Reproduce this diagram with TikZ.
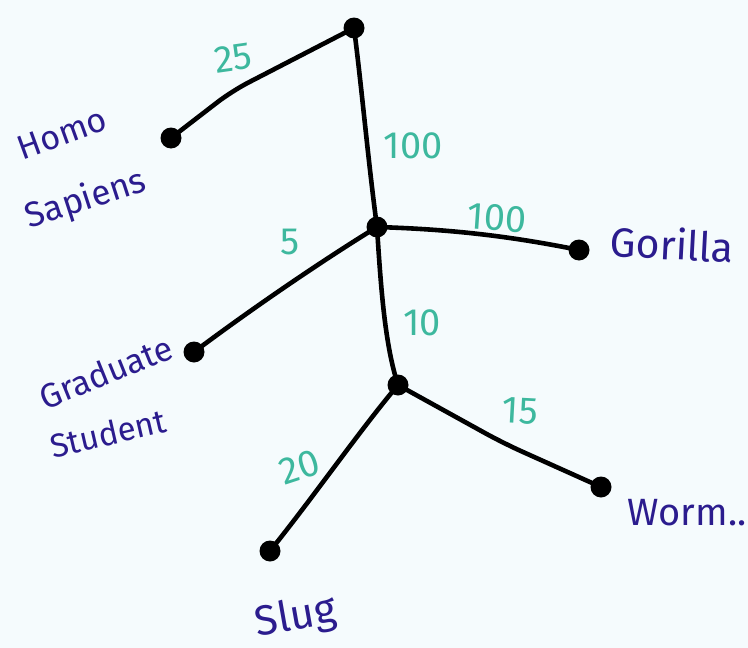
\documentclass[tikz,border=0pt]{standalone}
\usepackage{fontspec}
\setmainfont{Fira Sans}
\definecolor{inkblue}{HTML}{2B1C8E}
\definecolor{inkteal}{HTML}{3DB89E}
\definecolor{paper}{HTML}{F5FBFD}
\begin{document}
\begin{tikzpicture}[x=1pt,y=-1pt,
  dot/.style={circle,fill=black,inner sep=0pt,minimum size=21pt},
  edge/.style={line width=4.6pt,line cap=round,line join=round},
  taxon/.style={text=inkblue,font=\fontsize{34}{36}\selectfont,inner sep=0pt},
  weight/.style={text=inkteal,font=\fontsize{38}{40}\selectfont,inner sep=0pt}]
\fill[paper] (0,0) rectangle (748,648);
\useasboundingbox (0,0) rectangle (748,648);
% tree nodes
\node[dot] (root) at (354,28) {};
\node[dot] (homo) at (171,138) {};
\node[dot] (mid) at (377,227) {};
\node[dot] (gor) at (579,250) {};
\node[dot] (grad) at (194,352) {};
\node[dot] (low) at (398,385) {};
\node[dot] (worm) at (601,487) {};
\node[dot] (slug) at (270,551) {};
% edges
\draw[edge,rounded corners=18pt] (root.center) -- (232,91) -- (homo.center);
\draw[edge] (root.center) .. controls (362,90) and (368,160) .. (mid.center);
\draw[edge] (mid.center) .. controls (440,229) and (500,234) .. (gor.center);
\draw[edge] (mid.center) .. controls (320,262) and (250,310) .. (grad.center);
\draw[edge] (mid.center) .. controls (381,290) and (385,345) .. (low.center);
\draw[edge,rounded corners=20pt] (low.center) -- (503,443) -- (worm.center);
\draw[edge] (low.center) .. controls (360,430) and (315,495) .. (slug.center);
% weights
\node[weight,rotate=8] (w1) at (233,58) {25};
\node[weight] (w2) at (413,146) {100};
\node[weight,rotate=-4] (w3) at (497,218) {100};
\node[weight] (w4) at (290,242) {5};
\node[weight] (w5) at (422,323) {10};
\node[weight,rotate=-3] (w6) at (520,411) {15};
\node[weight,rotate=18] (w7) at (300,467) {20};
% names
\node[taxon,rotate=20] (t1) at (62,134) {Homo};
\node[taxon,font=\fontsize{35}{36}\selectfont,rotate=18] (t2) at (86,200) {Sapiens};
\node[taxon,font=\fontsize{41}{44}\selectfont,rotate=-3] (t3) at (672,244) {Gorilla};
\node[taxon,rotate=22] (t4) at (106,372) {Graduate};
\node[taxon,font=\fontsize{33}{36}\selectfont,rotate=13] (t5) at (108,433) {Student};
\node[taxon,font=\fontsize{38}{40}\selectfont] (t6) at (687,513) {Worm..};
\node[taxon,font=\fontsize{42}{44}\selectfont,rotate=10] (t7) at (296,618) {Slug};
\end{tikzpicture}
\end{document}
